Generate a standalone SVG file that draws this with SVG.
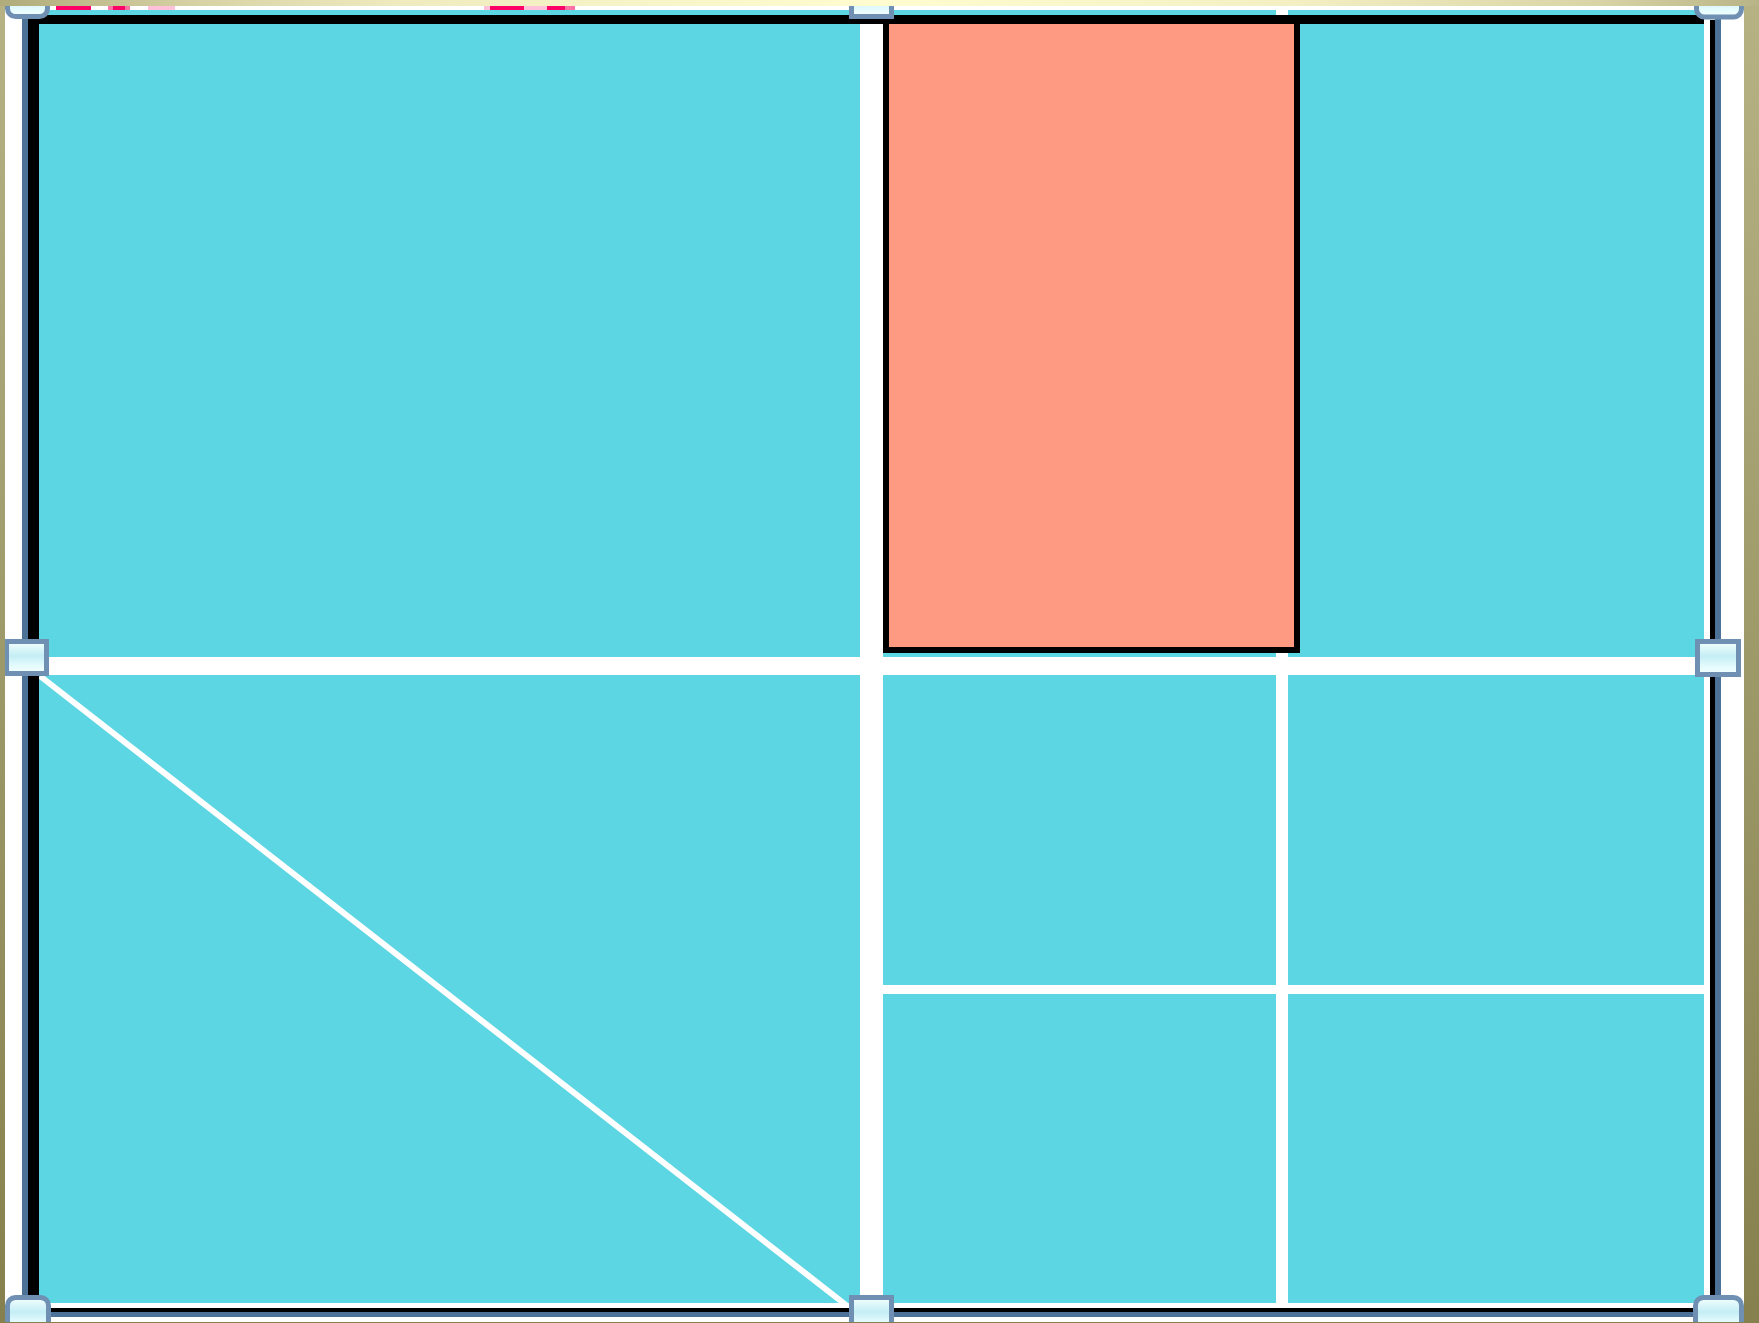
<svg xmlns="http://www.w3.org/2000/svg" width="1759" height="1323" viewBox="0 0 1759 1323">
<defs>
<linearGradient id="bgv" x1="0" y1="0" x2="0" y2="1"><stop offset="0" stop-color="#B6B284"/><stop offset="1" stop-color="#86804E"/></linearGradient>
<linearGradient id="bgh" x1="0" y1="0" x2="1" y2="0"><stop offset="0" stop-color="#B0AB7B"/><stop offset="0.114" stop-color="#D8D3A5"/><stop offset="0.227" stop-color="#EFEBBF"/><stop offset="0.5" stop-color="#FFFDD0"/><stop offset="0.74" stop-color="#F3EFC3"/><stop offset="0.91" stop-color="#D8D4A5"/><stop offset="1" stop-color="#B8B487"/></linearGradient>
<linearGradient id="hg" x1="0" y1="0" x2="0" y2="1"><stop offset="0" stop-color="#F4FFFF"/><stop offset="0.45" stop-color="#C4EEF4"/><stop offset="0.75" stop-color="#E4FBFD"/><stop offset="1" stop-color="#F4FFFF"/></linearGradient>
<clipPath id="win"><rect x="5" y="6" width="1739" height="1316"/></clipPath>
<style>
.cy{fill:#5BD6E2}
.bk{fill:#000000}
.bl{fill:#4D7297}
.wl{fill:#FFFFFF}
.pk{fill:#FF0066}
.lp{fill:#FFC0DA}
.mp{fill:#FF70A4}
.h{fill:url(#hg);stroke:#6F90B3;stroke-width:5}
</style>
</defs>
<rect x="0" y="0" width="1759" height="1323" fill="url(#bgv)"/>
<rect x="0" y="0" width="1759" height="6" fill="url(#bgh)"/>
<g clip-path="url(#win)">
  <rect x="5" y="6" width="1739" height="1316" fill="#FFFFFF"/>
  <g id="pink-marks">
    <rect class="pk" x="56" y="6" width="35" height="4"/>
    <rect class="pk" x="60" y="10" width="22" height="5"/>
    <rect class="mp" x="108" y="6" width="5" height="4"/>
    <rect class="pk" x="113" y="6" width="12" height="4"/>
    <rect class="mp" x="125" y="6" width="5" height="4"/>
    <rect class="lp" x="148" y="6" width="27" height="4"/>
    <rect class="lp" x="484" y="6" width="6" height="4"/>
    <rect class="pk" x="490" y="6" width="75" height="9"/>
    <rect class="lp" x="524" y="6" width="23" height="4"/>
    <rect class="mp" x="565" y="6" width="10" height="4"/>
  </g>
  <g id="area">
    <rect class="cy" x="28" y="10" width="1676" height="1293"/>
  </g>
  <g id="connectors">
    <rect class="wl" x="860" y="24" width="23" height="1279"/>
    <rect class="wl" x="1276" y="10" width="12" height="1293"/>
    <rect class="wl" x="39" y="657" width="1665" height="18"/>
    <rect class="wl" x="883" y="985" width="821" height="9"/>
    <line x1="40" y1="676" x2="846" y2="1305" stroke="#FFFFFF" stroke-width="6"/>
  </g>
  <g id="salmon-box">
    <rect x="886" y="18" width="411" height="632" fill="#FF9A82" stroke="#000000" stroke-width="6"/>
  </g>
  <g id="frame">
    <rect class="bk" x="28" y="15" width="1676" height="9"/>
    <rect class="bk" x="28" y="15" width="11" height="1293"/>
    <rect class="bk" x="1710" y="20" width="5" height="1292"/>
    <rect class="bk" x="28" y="1308" width="1687" height="4"/>
    <rect class="bl" x="22" y="15" width="6" height="1302"/>
    <rect class="bl" x="1715" y="15" width="6" height="1302"/>
    <rect class="bl" x="22" y="1312" width="1699" height="5"/>
  </g>
  <g id="handles">
    <rect class="h" x="7.5" y="-15.5" width="40" height="32" rx="8"/>
    <rect class="h" x="851.5" y="-14.5" width="40" height="31"/>
    <rect class="h" x="1696.5" y="-15" width="45" height="32" rx="8"/>
    <rect class="h" x="6.5" y="641.5" width="40" height="32"/>
    <rect class="h" x="1697.5" y="641.5" width="41" height="33"/>
    <rect class="h" x="7.5" y="1297.5" width="41" height="32" rx="8"/>
    <rect class="h" x="851.5" y="1297.5" width="40" height="32"/>
    <rect class="h" x="1695.5" y="1297.5" width="46" height="32" rx="8"/>
  </g>
</g>
</svg>
